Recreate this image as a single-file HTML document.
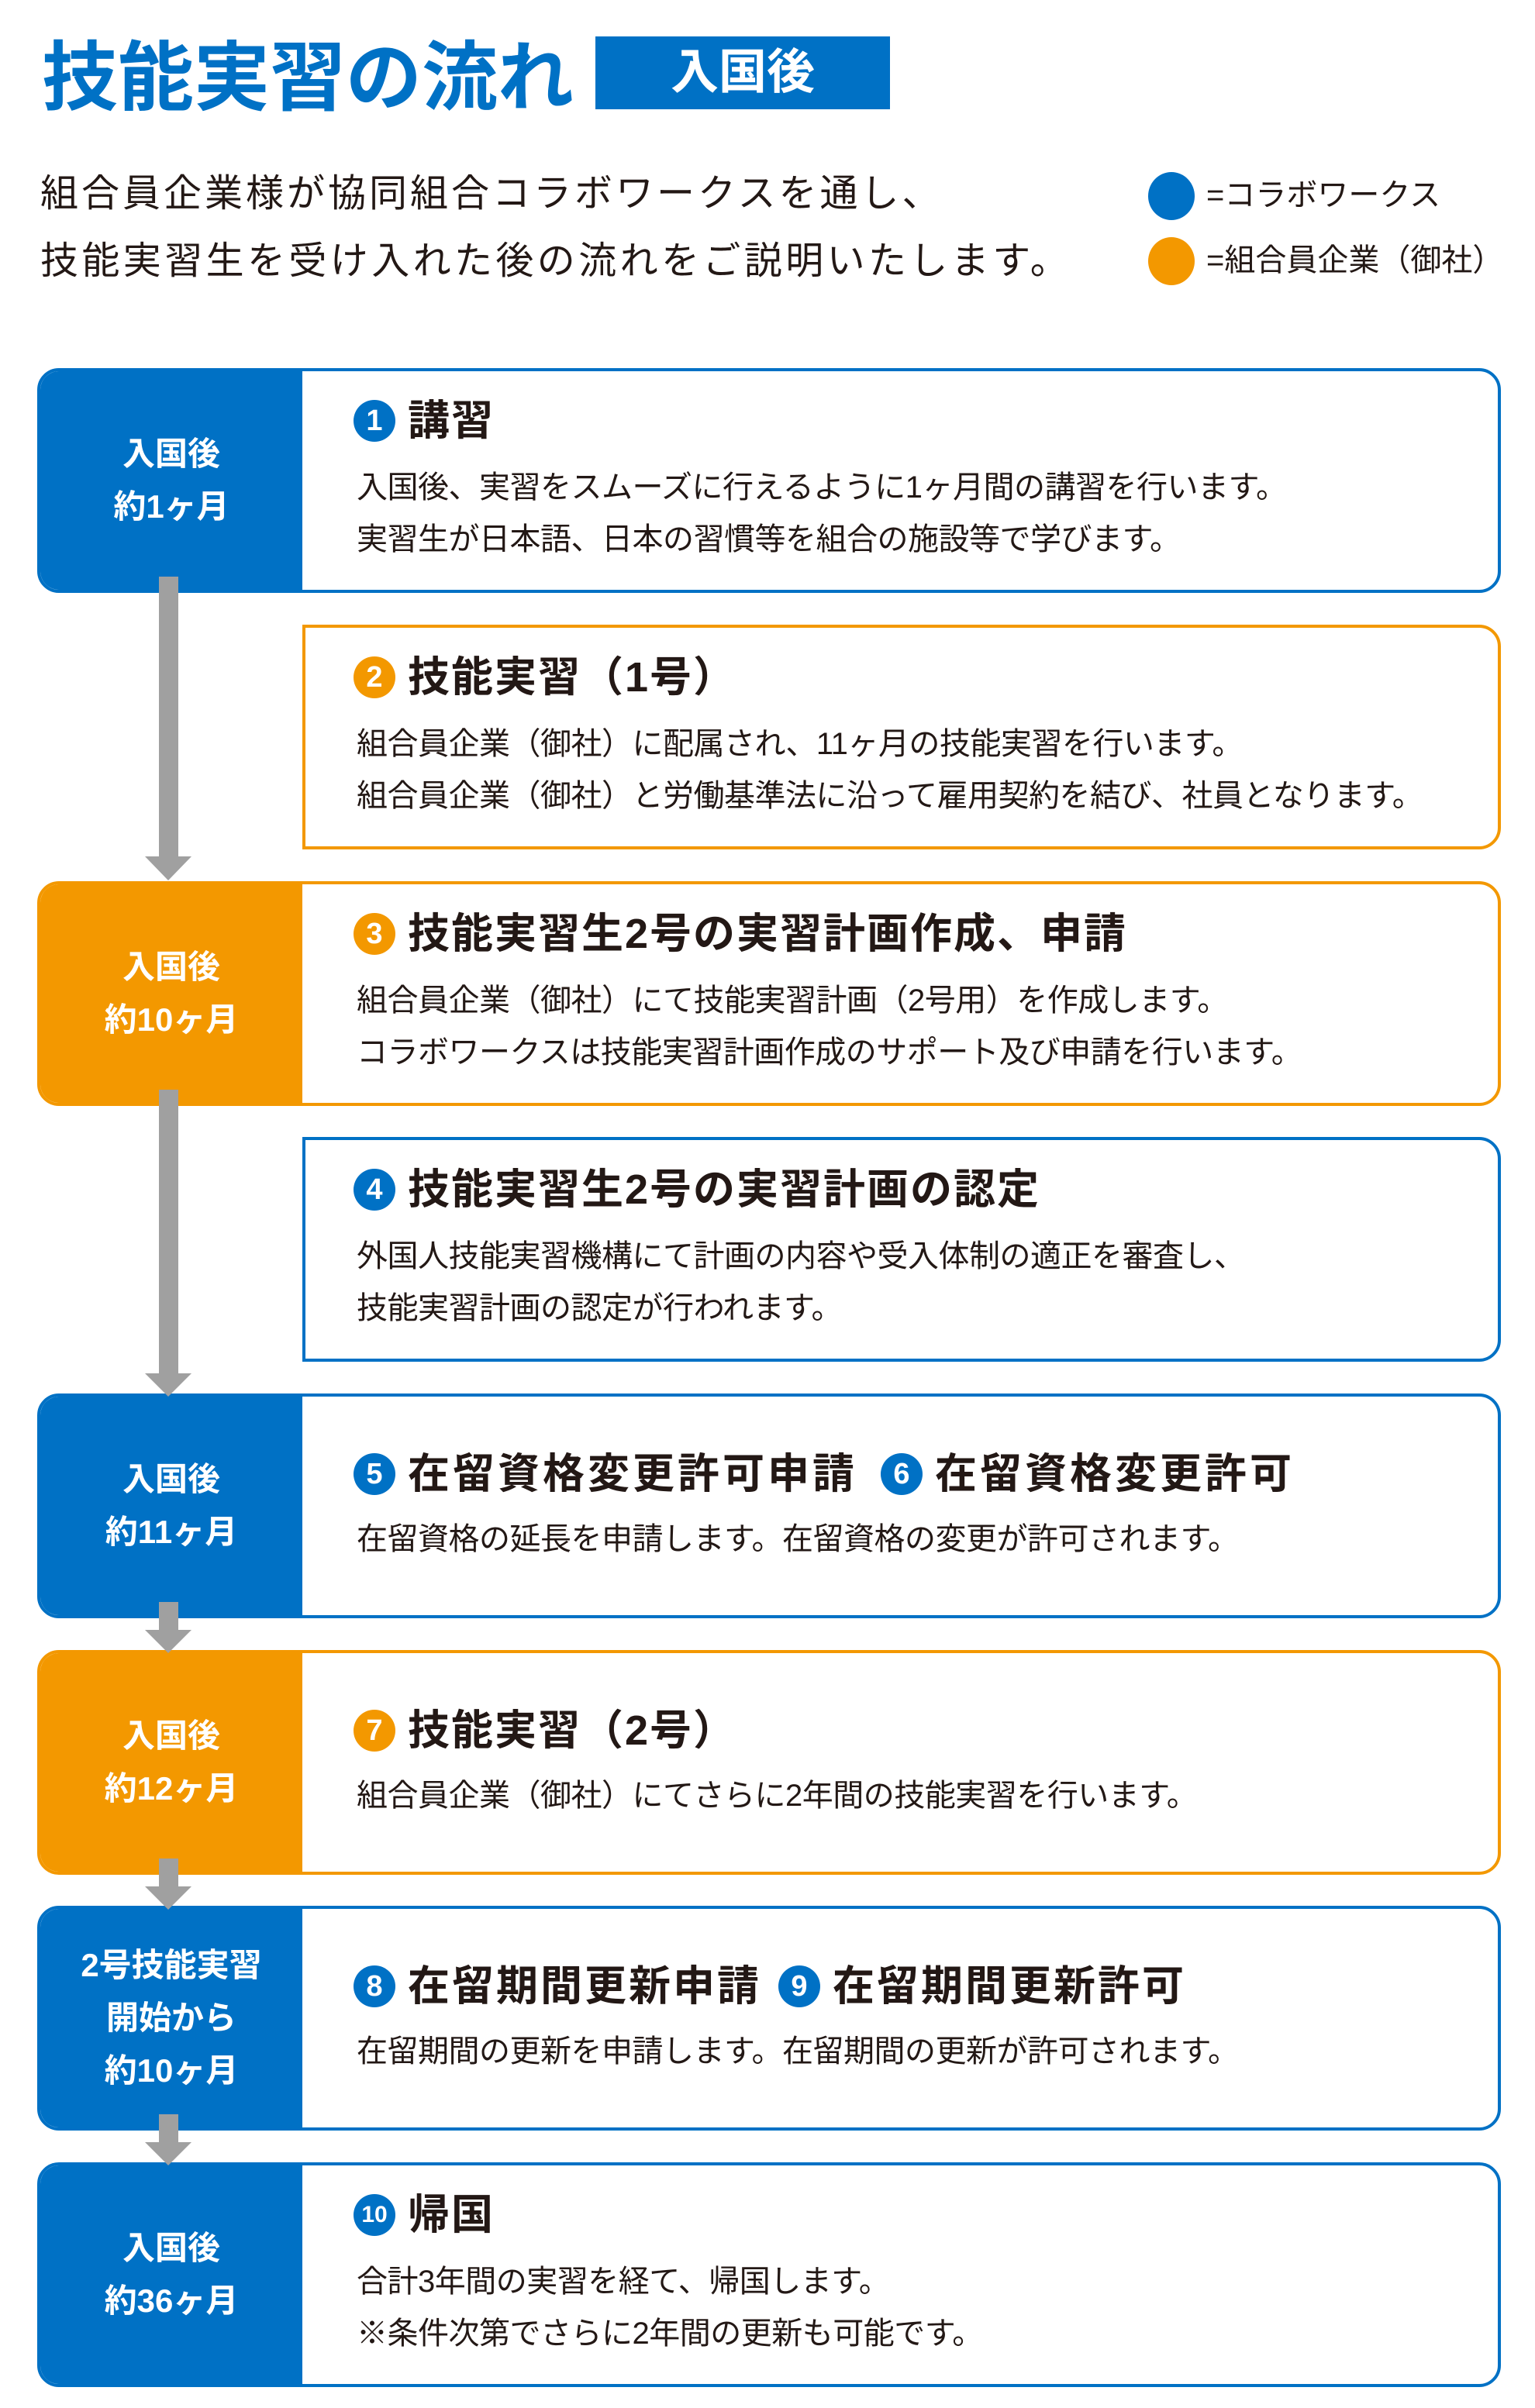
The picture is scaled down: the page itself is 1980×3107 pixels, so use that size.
<!DOCTYPE html>
<html><head><meta charset="utf-8"><style>
*{margin:0;padding:0;box-sizing:border-box}
body{width:1980px;height:3107px;background:#fff;position:relative;overflow:hidden;font-family:"Liberation Sans","Noto Sans CJK JP",sans-serif;color:#231815}
.a{position:absolute;white-space:nowrap}
.row{position:absolute;left:48px;width:1888px;height:290px;border:4px solid;border-radius:28px;background:#fff;overflow:hidden}
.row.r{left:390px;width:1546px;border-radius:0 28px 28px 0}
.lab{position:absolute;left:0;top:0;bottom:0;width:338px;color:#fff;font-weight:bold;font-size:42px;text-align:center;display:flex;flex-direction:column;justify-content:center;line-height:68px}
.B{border-color:#0071c5}.O{border-color:#f39800}
.bB{background:#0071c5}.bO{background:#f39800}
.h{position:absolute;font-weight:bold;font-size:54px;line-height:60px;white-space:nowrap;display:flex;align-items:center;letter-spacing:2px}
.c{display:inline-block;width:54px;height:54px;border-radius:50%;color:#fff;font-size:38px;line-height:54px;text-align:center;margin-right:16px;font-weight:bold;letter-spacing:0}
.t{position:absolute;font-size:40px;line-height:67px;white-space:nowrap;letter-spacing:-0.5px}
</style></head><body>
<div class="a" style="left:54px;top:40px;font-size:98px;font-weight:bold;color:#0071c5;line-height:120px;letter-spacing:0">技能実習の流れ</div>
<div class="a" style="left:768px;top:47px;width:380px;height:94px;background:#0071c5;color:#fff;font-size:62px;font-weight:bold;text-align:center;line-height:94px">入国後</div>
<div class="a" style="left:52px;top:215px;font-size:49px;line-height:70px;letter-spacing:4px">組合員企業様が協同組合コラボワークスを通し、</div>
<div class="a" style="left:52px;top:302px;font-size:49px;line-height:70px;letter-spacing:4.4px">技能実習生を受け入れた後の流れをご説明いたします。</div>
<div class="a" style="left:1481px;top:222px;width:60px;height:62px;border-radius:50%;background:#0071c5"></div>
<div class="a" style="left:1556px;top:224px;font-size:40px;line-height:56px">=コラボワークス</div>
<div class="a" style="left:1481px;top:306px;width:60px;height:62px;border-radius:50%;background:#f39800"></div>
<div class="a" style="left:1556px;top:308px;font-size:40px;line-height:56px">=組合員企業（御社）</div>

<div class="row B" style="top:475px"><div class="lab bB"><div>入国後</div><div>約1ヶ月</div></div>
<div class="h" style="left:404px;top:34px"><span class="c bB">1</span>講習</div>
<div class="t" style="left:408px;top:117px">入国後、実習をスムーズに行えるように1ヶ月間の講習を行います。</div>
<div class="t" style="left:408px;top:184px">実習生が日本語、日本の習慣等を組合の施設等で学びます。</div></div>

<div class="row r O" style="top:806px">
<div class="h" style="left:62px;top:34px"><span class="c bO">2</span>技能実習（1号）</div>
<div class="t" style="left:66px;top:117px">組合員企業（御社）に配属され、11ヶ月の技能実習を行います。</div>
<div class="t" style="left:66px;top:184px">組合員企業（御社）と労働基準法に沿って雇用契約を結び、社員となります。</div></div>

<div class="row O" style="top:1137px"><div class="lab bO"><div>入国後</div><div>約10ヶ月</div></div>
<div class="h" style="left:404px;top:34px"><span class="c bO">3</span>技能実習生2号の実習計画作成、申請</div>
<div class="t" style="left:408px;top:117px">組合員企業（御社）にて技能実習計画（2号用）を作成します。</div>
<div class="t" style="left:408px;top:184px">コラボワークスは技能実習計画作成のサポート及び申請を行います。</div></div>

<div class="row r B" style="top:1467px;border-radius:0 28px 28px 0">
<div class="h" style="left:62px;top:34px"><span class="c bB">4</span>技能実習生2号の実習計画の認定</div>
<div class="t" style="left:66px;top:117px">外国人技能実習機構にて計画の内容や受入体制の適正を審査し、</div>
<div class="t" style="left:66px;top:184px">技能実習計画の認定が行われます。</div></div>

<div class="row B" style="top:1798px"><div class="lab bB"><div>入国後</div><div>約11ヶ月</div></div>
<div class="h" style="left:404px;top:70px;letter-spacing:4px"><span class="c bB">5</span>在留資格変更許可申請<span class="c bB" style="margin-left:30px">6</span>在留資格変更許可</div>
<div class="t" style="left:408px;top:151px">在留資格の延長を申請します。在留資格の変更が許可されます。</div></div>

<div class="row O" style="top:2129px"><div class="lab bO"><div>入国後</div><div>約12ヶ月</div></div>
<div class="h" style="left:404px;top:70px"><span class="c bO">7</span>技能実習（2号）</div>
<div class="t" style="left:408px;top:151px">組合員企業（御社）にてさらに2年間の技能実習を行います。</div></div>

<div class="row B" style="top:2459px"><div class="lab bB"><div>2号技能実習</div><div>開始から</div><div>約10ヶ月</div></div>
<div class="h" style="left:404px;top:70px;letter-spacing:3px"><span class="c bB">8</span>在留期間更新申請<span class="c bB" style="margin-left:22px">9</span>在留期間更新許可</div>
<div class="t" style="left:408px;top:151px">在留期間の更新を申請します。在留期間の更新が許可されます。</div></div>

<div class="row B" style="top:2790px"><div class="lab bB"><div>入国後</div><div>約36ヶ月</div></div>
<div class="h" style="left:404px;top:34px"><span class="c bB" style="font-size:30px">10</span>帰国</div>
<div class="t" style="left:408px;top:117px">合計3年間の実習を経て、帰国します。</div>
<div class="t" style="left:408px;top:184px">※条件次第でさらに2年間の更新も可能です。</div></div>

<svg class="a" style="left:0;top:0" width="1980" height="3107">
<g fill="#a0a0a0">
<rect x="205" y="744" width="25" height="362"/><polygon points="187,1105 247,1105 217,1136"/>
<rect x="205" y="1406" width="25" height="368"/><polygon points="187,1772 247,1772 217,1802"/>
<rect x="205" y="2067" width="25" height="38"/><polygon points="187,2103 247,2103 217,2133"/>
<rect x="205" y="2398" width="25" height="38"/><polygon points="187,2434 247,2434 217,2464"/>
<rect x="205" y="2728" width="25" height="38"/><polygon points="187,2764 247,2764 217,2794"/>
</g></svg>
</body></html>
